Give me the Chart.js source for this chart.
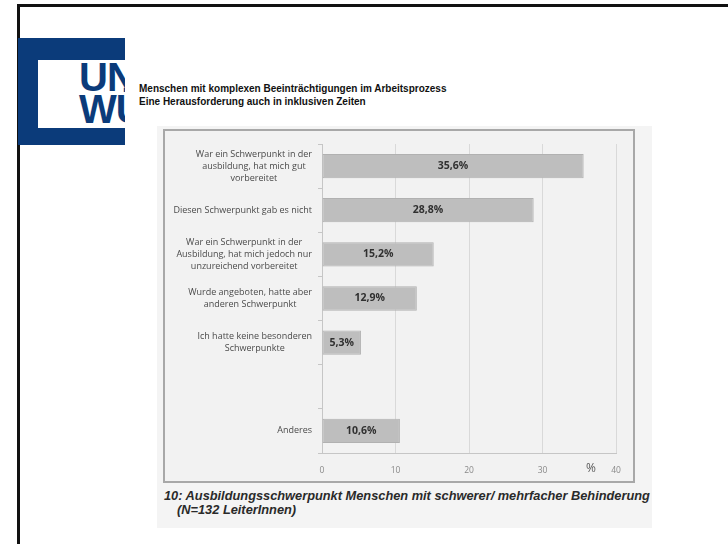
<!DOCTYPE html>
<html lang="de">
<head>
<meta charset="UTF-8">
<title>Ausbildungsschwerpunkt</title>
<style>
    html, body {
        margin: 0;
        padding: 0;
        overflow: hidden;
        background: #fff;
    }
    .slide {
        position: fixed;
        left: 0;
        top: 0;
        width: 728px;
        height: 544px;
        overflow: hidden;
        background: #fff;
        font-family: "Liberation Sans", Arial, sans-serif;
    }
    .frame-top {
        position: absolute; left: 17px; top: 4px; width: 711px; height: 3px; background: #111;
    }
    .frame-left {
        position: absolute; left: 17px; top: 4px; width: 3px; height: 540px; background: #111;
    }
    .logo {
        position: absolute; left: 18px; top: 38px; width: 107px; height: 107px;
        background: #0b3b7a; overflow: hidden;
    }
    .logo .inner {
        position: absolute; left: 20px; top: 22px; width: 87px; height: 68px;
        background: #fff; overflow: hidden;
    }
    .logo .txt {
        position: absolute; left: 41px; top: 1px;
        color: #0b3b7a; font-weight: bold; font-size: 40px; line-height: 32px;
        letter-spacing: -1px; white-space: nowrap;
    }
    .title {
        position: absolute; left: 139px; top: 82px;
        font-size: 10px; font-weight: bold; line-height: 13px; color: #111;
    }
    .panel {
        position: absolute; left: 157px; top: 126px; width: 495px; height: 402px;
        background: #f4f4f4;
    }
    .box {
        position: absolute; left: 163px; top: 129px; width: 472px; height: 354px;
        box-sizing: border-box; border: 2px solid #a8a8a8; background: #f2f2f2;
    }
    .chart {
        position: absolute; left: 163px; top: 129px; width: 472px; height: 354px;
    }
    .pct {
        position: absolute; left: 586px; top: 459px;
        font-family: "Open Sans", sans-serif; font-size: 12px; color: #5a5a5a;
    }
    .caption {
        position: absolute; left: 164px; top: 489px;
        font-size: 12.8px; font-weight: bold; font-style: italic; line-height: 14px; color: #2a2a2a;
        white-space: nowrap;
    }
    .caption span { display: block; padding-left: 13px; }
</style>
<script src="https://cdn.jsdelivr.net/npm/chart.js"></script>
</head>
<body>
<div class="slide">
    <div class="frame-top"></div>
    <div class="frame-left"></div>
    <div class="logo"><div class="inner"><div class="txt">UNI<br>WÜ</div></div></div>
    <div class="title">Menschen mit komplexen Beeinträchtigungen im Arbeitsprozess<br>Eine Herausforderung auch in inklusiven Zeiten</div>
    <div class="panel"></div>
    <div class="box"></div>
    <div class="chart"><canvas id="chart"></canvas></div>
    <div class="pct">%</div>
    <div class="caption">10: Ausbildungsschwerpunkt Menschen mit schwerer/ mehrfacher Behinderung<span>(N=132 LeiterInnen)</span></div>
</div>

<script>
    // categories (one empty slot between "Ich hatte..." and "Anderes")
    const categories = [
        ['War ein Schwerpunkt in der', 'ausbildung, hat mich gut', 'vorbereitet'],
        ['Diesen Schwerpunkt gab es nicht'],
        ['War ein Schwerpunkt in der', 'Ausbildung, hat mich jedoch nur', 'unzureichend vorbereitet'],
        ['Wurde angeboten, hatte aber', 'anderen Schwerpunkt'],
        ['Ich hatte keine besonderen', 'Schwerpunkte'],
        [''],
        ['Anderes']
    ];
    const percentages = [35.6, 28.8, 15.2, 12.9, 5.3, null, 10.6];
    const xTicks = [0, 10, 20, 30, 40];

    // category labels: each block right-aligned, its lines centred
    const categoryLabels = {
        id: 'categoryLabels',
        afterDraw(chart) {
            const ctx = chart.ctx;
            const y = chart.scales.y;
            const right = chart.chartArea.left - 10;
            const lh = 12;
            ctx.save();
            ctx.font = '9px "Open Sans"';
            ctx.fillStyle = '#4a4a4a';
            ctx.textAlign = 'center';
            ctx.textBaseline = 'middle';
            categories.forEach((lines, i) => {
                const w = Math.max(...lines.map(l => ctx.measureText(l).width));
                const cx = right - w / 2;
                const cy = y.getPixelForValue(i);
                const top = cy - (lines.length - 1) * lh / 2;
                lines.forEach((l, j) => ctx.fillText(l, cx, top + j * lh));
            });
            ctx.restore();
        }
    };

    // value labels in the middle of each bar
    const valueLabels = {
        id: 'valueLabels',
        afterDatasetsDraw(chart) {
            const ctx = chart.ctx;
            const meta = chart.getDatasetMeta(0);
            ctx.save();
            ctx.font = 'bold 10.5px "Open Sans"';
            ctx.fillStyle = '#303030';
            ctx.textAlign = 'center';
            ctx.textBaseline = 'middle';
            meta.data.forEach((bar, i) => {
                const v = percentages[i];
                if (v === null) return;
                const cx = (bar.x + bar.base) / 2;
                ctx.fillText(v.toFixed(1).replace('.', ',') + '%', cx, bar.y);
            });
            ctx.restore();
        }
    };

    new Chart(document.getElementById('chart'), {
        type: 'bar',
        data: {
            labels: categories,
            datasets: [{
                data: percentages,
                backgroundColor: '#bebebe',
                borderColor: '#b1b1b1',
                borderWidth: 1,
                borderSkipped: false,
                barPercentage: 0.55,
                categoryPercentage: 1
            }]
        },
        options: {
            indexAxis: 'y',
            responsive: true,
            maintainAspectRatio: false,
            animation: false,
            layout: { padding: { top: 15, right: 19, left: 0, bottom: 0 } },
            plugins: { legend: { display: false }, tooltip: { enabled: false } },
            scales: {
                x: {
                    min: 0,
                    max: 40,
                    afterBuildTicks: s => { s.ticks = xTicks.map(v => ({ value: v })); },
                    afterFit: s => { s.height = 30; },
                    grid: { color: '#d9d9d9', drawTicks: false },
                    border: { color: '#c6c6c6' },
                    ticks: {
                        padding: 12,
                        color: '#8a8a8a',
                        font: { family: 'Open Sans', size: 8.5 }
                    }
                },
                y: {
                    afterFit: s => { s.width = 159; },
                    grid: { drawOnChartArea: false, drawTicks: true, tickLength: 4, color: '#c6c6c6', offset: true },
                    border: { color: '#c6c6c6' },
                    ticks: { display: false }
                }
            }
        },
        plugins: [categoryLabels, valueLabels]
    });
</script>
</body>
</html>
